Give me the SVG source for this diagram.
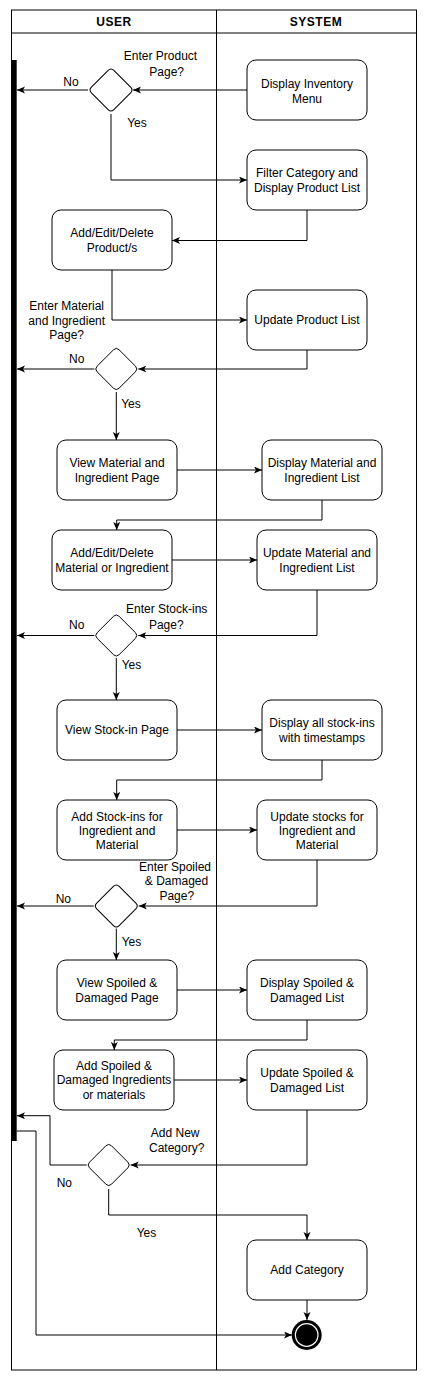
<svg xmlns="http://www.w3.org/2000/svg" xmlns:xlink="http://www.w3.org/1999/xlink" width="428" height="1381" viewBox="0 0 428 1381">
<style>
text{font-family:"Liberation Sans",Arial,sans-serif;font-size:12px;fill:#000;text-anchor:middle}
.hd{font-weight:bold;letter-spacing:0.5px}
.box{fill:#fff;stroke:#000;stroke-width:1}
.dia{fill:#fff;stroke:#000;stroke-width:1}
.con{fill:none;stroke:#000;stroke-width:1}
.arr{marker-end:url(#ah)}
</style>
<defs>
<marker id="ah" markerUnits="userSpaceOnUse" markerWidth="9" markerHeight="8" refX="8" refY="3.5" orient="auto">
<path d="M0,0 L8,3.5 L0,7 L2,3.5 Z" fill="#000"/>
</marker>
<path id="dm" d="M-2.8,-19.2 Q0,-22 2.8,-19.2 L19.2,-2.8 Q22,0 19.2,2.8 L2.8,19.2 Q0,22 -2.8,19.2 L-19.2,2.8 Q-22,0 -19.2,-2.8 Z"/>
</defs>

<g id="frame">
<rect x="11.5" y="10" width="405" height="1360" fill="#fff" stroke="#000"/>
<line x1="11.5" y1="33" x2="416.5" y2="33" stroke="#000"/>
<line x1="216.5" y1="10" x2="216.5" y2="1370" stroke="#000"/>
<text class="hd" x="114" y="26">USER</text>
<text class="hd" x="316" y="26">SYSTEM</text>
</g>

<g id="bar"><rect x="11.7" y="60" width="5" height="1081" fill="#000"/></g>

<g id="connectors">
<polyline class="con arr" points="247,90 133,90"/>
<polyline class="con arr" points="88,90 17,90"/>
<polyline class="con arr" points="111,114 111,180 247,180"/>
<polyline class="con arr" points="307,210 307,240.5 172,240.5"/>
<polyline class="con arr" points="112,270 112,320 247,320"/>
<polyline class="con arr" points="307,350 307,369 138.3,369"/>
<polyline class="con arr" points="94.3,369 17,369"/>
<polyline class="con arr" points="116.3,392 116.3,440"/>
<polyline class="con arr" points="177,470 262,470"/>
<polyline class="con arr" points="322,500 322,520 116.7,520 116.7,530"/>
<polyline class="con arr" points="172,560 257,560"/>
<polyline class="con arr" points="317,590 317,635.5 138.3,635.5"/>
<polyline class="con arr" points="94.3,635.5 17,635.5"/>
<polyline class="con arr" points="116.3,658 116.3,700"/>
<polyline class="con arr" points="177,730 262,730"/>
<polyline class="con arr" points="322,760 322,780 116.7,780 116.7,800"/>
<polyline class="con arr" points="177,830 257,830"/>
<polyline class="con arr" points="317,860 317,906 138.8,906"/>
<polyline class="con arr" points="93.8,906 17,906"/>
<polyline class="con arr" points="116.3,928.5 116.3,960"/>
<polyline class="con arr" points="177,990 247,990"/>
<polyline class="con arr" points="307,1020 307,1040 114.3,1040 114.3,1050"/>
<polyline class="con arr" points="174,1080 247,1080"/>
<polyline class="con arr" points="307,1110 307,1165 130.7,1165"/>
<polyline class="con arr" points="86.7,1165 50,1165 50,1115.7 17,1115.7"/>
<polyline class="con arr" points="108.7,1189 108.7,1215 307,1215 307,1240"/>
<polyline class="con arr" points="307,1300 307,1320"/>
<polyline class="con arr" points="16.7,1131 36,1131 36,1335 292,1335"/>
</g>

<g id="labels">
<text x="160.5" y="60">Enter Product</text>
<text x="166.7" y="76">Page?</text>
<text x="71" y="86">No</text>
<text x="137" y="127">Yes</text>
<text x="66.7" y="310">Enter Material</text>
<text x="66.7" y="324.5">and Ingredient</text>
<text x="66.7" y="339">Page?</text>
<text x="76.7" y="363">No</text>
<text x="131" y="408">Yes</text>
<text x="166.7" y="613">Enter Stock-ins</text>
<text x="166.3" y="628.5">Page?</text>
<text x="76.7" y="629">No</text>
<text x="131.5" y="669">Yes</text>
<text x="175" y="871">Enter Spoiled</text>
<text x="176.5" y="885.3">&amp; Damaged</text>
<text x="176.8" y="900">Page?</text>
<text x="63.3" y="902.5">No</text>
<text x="131.5" y="946">Yes</text>
<text x="175.2" y="1136.5">Add New</text>
<text x="176.7" y="1152">Category?</text>
<text x="64.3" y="1187">No</text>
<text x="146.5" y="1236.5">Yes</text>
</g>

<g id="d1"><use xlink:href="#dm" class="dia" transform="translate(111,90) scale(1.02)"/></g>
<g id="d2"><use xlink:href="#dm" class="dia" transform="translate(116.3,369)"/></g>
<g id="d3"><use xlink:href="#dm" class="dia" transform="translate(116.3,635.5)"/></g>
<g id="d4"><use xlink:href="#dm" class="dia" transform="translate(116.3,906) scale(1.02)"/></g>
<g id="d5"><use xlink:href="#dm" class="dia" transform="translate(108.7,1165)"/></g>

<g id="n1"><rect class="box" x="247" y="60" width="120" height="60" rx="9"/><text x="307" y="87.5">Display Inventory</text><text x="307" y="102.5">Menu</text></g>
<g id="n2"><rect class="box" x="247" y="150" width="120" height="60" rx="9"/><text x="307" y="177">Filter Category and</text><text x="307" y="191.5">Display Product List</text></g>
<g id="n3"><rect class="box" x="52" y="210" width="120" height="60" rx="9"/><text x="112" y="237">Add/Edit/Delete</text><text x="112" y="252">Product/s</text></g>
<g id="n4"><rect class="box" x="247" y="290" width="120" height="60" rx="9"/><text x="307" y="323.5">Update Product List</text></g>
<g id="n5"><rect class="box" x="57" y="440" width="120" height="60" rx="9"/><text x="117" y="467">View Material and</text><text x="117" y="482">Ingredient Page</text></g>
<g id="n6"><rect class="box" x="262" y="440" width="120" height="60" rx="9"/><text x="322" y="467">Display Material and</text><text x="322" y="482">Ingredient List</text></g>
<g id="n7"><rect class="box" x="52" y="530" width="120" height="60" rx="9"/><text x="112" y="557">Add/Edit/Delete</text><text x="112" y="571.5">Material or Ingredient</text></g>
<g id="n8"><rect class="box" x="257" y="530" width="120" height="60" rx="9"/><text x="317" y="557">Update Material and</text><text x="317" y="571.5">Ingredient List</text></g>
<g id="n9"><rect class="box" x="57" y="700" width="120" height="60" rx="9"/><text x="117" y="734.3">View Stock-in Page</text></g>
<g id="n10"><rect class="box" x="262" y="700" width="120" height="60" rx="9"/><text x="322" y="727">Display all stock-ins</text><text x="322" y="742">with timestamps</text></g>
<g id="n11"><rect class="box" x="57" y="800" width="120" height="60" rx="9"/><text x="117" y="821">Add Stock-ins for</text><text x="117" y="834.5">Ingredient and</text><text x="117" y="848.5">Material</text></g>
<g id="n12"><rect class="box" x="257" y="800" width="120" height="60" rx="9"/><text x="317" y="821">Update stocks for</text><text x="317" y="834.5">Ingredient and</text><text x="317" y="848.5">Material</text></g>
<g id="n13"><rect class="box" x="57" y="960" width="120" height="60" rx="9"/><text x="117" y="987">View Spoiled &amp;</text><text x="117" y="1002">Damaged Page</text></g>
<g id="n14"><rect class="box" x="247" y="960" width="120" height="60" rx="9"/><text x="307" y="987">Display Spoiled &amp;</text><text x="307" y="1002">Damaged List</text></g>
<g id="n15"><rect class="box" x="54" y="1050" width="120" height="60" rx="9"/><text x="114" y="1070">Add Spoiled &amp;</text><text x="114" y="1084.3">Damaged Ingredients</text><text x="114" y="1098.6">or materials</text></g>
<g id="n16"><rect class="box" x="247" y="1050" width="120" height="60" rx="9"/><text x="307" y="1077">Update Spoiled &amp;</text><text x="307" y="1092">Damaged List</text></g>
<g id="n17"><rect class="box" x="247" y="1240" width="120" height="60" rx="9"/><text x="307" y="1273.5">Add Category</text></g>

<g id="end">
<circle cx="306.7" cy="1335" r="15" fill="#000"/>
<circle cx="306.7" cy="1335" r="11.3" fill="none" stroke="#fff" stroke-width="1.2"/>
</g>
</svg>
